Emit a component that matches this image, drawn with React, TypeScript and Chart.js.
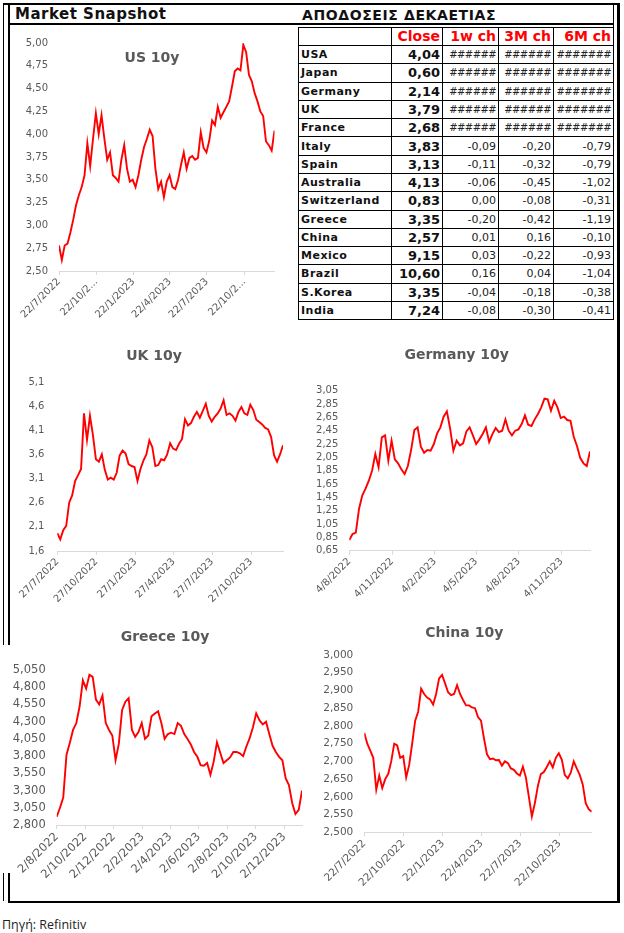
import React, { useEffect, useRef } from 'react';
import { Chart, registerables } from 'chart.js';

Chart.register(...registerables);

const STEP_DAYS = 7;

// ---------- US 10y ----------
const usStartDate = '2022-07-22';
const usValues = [2.78, 2.62, 2.78, 2.80, 2.92, 3.06, 3.22, 3.33, 3.42, 3.55, 3.90, 3.65, 3.95, 4.23, 4.00, 4.21, 3.95, 3.72, 3.80, 3.55, 3.52, 3.48, 3.72, 3.88, 3.62, 3.48, 3.50, 3.42, 3.55, 3.72, 3.86, 3.95, 4.05, 3.98, 3.62, 3.40, 3.48, 3.31, 3.48, 3.55, 3.42, 3.40, 3.50, 3.66, 3.80, 3.62, 3.74, 3.76, 3.72, 3.74, 4.02, 3.85, 3.80, 3.93, 4.15, 4.10, 4.30, 4.18, 4.24, 4.30, 4.36, 4.52, 4.69, 4.72, 4.70, 4.98, 4.90, 4.65, 4.58, 4.45, 4.36, 4.25, 4.20, 3.92, 3.88, 3.82, 4.04];
const usTickDates = ['2022-07-22', '2022-10-22', '2023-01-22', '2023-04-22', '2023-07-22', '2023-10-22'];
const usTickLabels = ['22/7/2022', '22/10/2...', '22/1/2023', '22/4/2023', '22/7/2023', '22/10/2...'];
const usYTicks = [2.5, 2.75, 3.0, 3.25, 3.5, 3.75, 4.0, 4.25, 4.5, 4.75, 5.0];

// ---------- UK 10y ----------
const ukStartDate = '2022-07-27';
const ukValues = [1.97, 1.84, 2.03, 2.12, 2.60, 2.75, 3.05, 3.17, 3.30, 4.45, 3.90, 4.40, 4.00, 3.50, 3.45, 3.60, 3.28, 3.08, 3.12, 3.08, 3.22, 3.58, 3.68, 3.62, 3.40, 3.36, 3.34, 3.05, 3.30, 3.47, 3.60, 3.89, 3.75, 3.36, 3.38, 3.50, 3.48, 3.60, 3.83, 3.72, 3.69, 3.82, 3.92, 4.33, 4.20, 4.25, 4.38, 4.48, 4.36, 4.50, 4.65, 4.40, 4.28, 4.38, 4.45, 4.55, 4.72, 4.42, 4.45, 4.40, 4.30, 4.48, 4.58, 4.45, 4.42, 4.63, 4.52, 4.32, 4.27, 4.22, 4.15, 4.12, 3.96, 3.58, 3.45, 3.60, 3.79];
const ukTickDates = ['2022-07-27', '2022-10-27', '2023-01-27', '2023-04-27', '2023-07-27', '2023-10-27'];
const ukTickLabels = ['27/7/2022', '27/10/2022', '27/1/2023', '27/4/2023', '27/7/2023', '27/10/2023'];
const ukYTicks = [1.6, 2.1, 2.6, 3.1, 3.6, 4.1, 4.6, 5.1];

// ---------- Germany 10y ----------
const deStartDate = '2022-08-04';
const deValues = [0.81, 0.90, 0.92, 1.28, 1.48, 1.58, 1.70, 1.85, 2.10, 1.90, 2.35, 2.38, 2.00, 2.30, 2.02, 1.96, 1.87, 1.80, 1.92, 2.16, 2.46, 2.50, 2.21, 2.12, 2.16, 2.15, 2.25, 2.41, 2.50, 2.66, 2.74, 2.48, 2.15, 2.30, 2.23, 2.26, 2.44, 2.50, 2.38, 2.25, 2.32, 2.40, 2.50, 2.28, 2.40, 2.49, 2.43, 2.45, 2.62, 2.45, 2.38, 2.45, 2.47, 2.55, 2.68, 2.54, 2.52, 2.62, 2.70, 2.80, 2.93, 2.92, 2.75, 2.90, 2.80, 2.64, 2.66, 2.61, 2.60, 2.36, 2.22, 2.04, 1.96, 1.92, 2.14];
const deTickDates = ['2022-08-04', '2022-11-04', '2023-02-04', '2023-05-04', '2023-08-04', '2023-11-04'];
const deTickLabels = ['4/8/2022', '4/11/2022', '4/2/2023', '4/5/2023', '4/8/2023', '4/11/2023'];
const deYTicks = [0.65, 0.85, 1.05, 1.25, 1.45, 1.65, 1.85, 2.05, 2.25, 2.45, 2.65, 2.85, 3.05];

// ---------- Greece 10y ----------
const grStartDate = '2022-08-02';
const grValues = [2.92, 3.05, 3.20, 3.82, 3.99, 4.18, 4.28, 4.52, 4.90, 4.78, 4.98, 4.95, 4.62, 4.55, 4.68, 4.28, 4.18, 4.10, 3.74, 3.98, 4.47, 4.59, 4.64, 4.18, 4.08, 4.15, 4.28, 4.05, 4.10, 4.38, 4.42, 4.45, 4.28, 4.05, 4.12, 4.14, 4.12, 4.28, 4.24, 4.12, 4.05, 3.97, 3.86, 3.79, 3.67, 3.66, 3.70, 3.53, 3.72, 4.00, 3.85, 3.70, 3.74, 3.78, 3.86, 3.86, 3.84, 3.80, 3.94, 4.06, 4.22, 4.42, 4.32, 4.26, 4.30, 4.12, 3.95, 3.86, 3.79, 3.74, 3.48, 3.38, 3.12, 2.96, 3.02, 3.30];
const grTickDates = ['2022-08-02', '2022-10-02', '2022-12-02', '2023-02-02', '2023-04-02', '2023-06-02', '2023-08-02', '2023-10-02', '2023-12-02'];
const grTickLabels = ['2/8/2022', '2/10/2022', '2/12/2022', '2/2/2023', '2/4/2023', '2/6/2023', '2/8/2023', '2/10/2023', '2/12/2023'];
const grYTicks = [2.8, 3.05, 3.3, 3.55, 3.8, 4.05, 4.3, 4.55, 4.8, 5.05];

// ---------- China 10y ----------
const cnStartDate = '2022-07-22';
const cnValues = [2.78, 2.75, 2.73, 2.71, 2.62, 2.66, 2.625, 2.65, 2.665, 2.70, 2.75, 2.745, 2.71, 2.715, 2.655, 2.69, 2.75, 2.815, 2.84, 2.905, 2.89, 2.88, 2.875, 2.86, 2.89, 2.934, 2.944, 2.92, 2.895, 2.887, 2.89, 2.915, 2.89, 2.873, 2.858, 2.858, 2.852, 2.85, 2.825, 2.815, 2.765, 2.72, 2.706, 2.708, 2.703, 2.704, 2.688, 2.70, 2.695, 2.68, 2.676, 2.666, 2.66, 2.685, 2.655, 2.60, 2.545, 2.582, 2.63, 2.664, 2.67, 2.684, 2.70, 2.683, 2.71, 2.723, 2.705, 2.662, 2.652, 2.668, 2.70, 2.68, 2.662, 2.635, 2.582, 2.565, 2.558];
const cnTickDates = ['2022-07-22', '2022-10-22', '2023-01-22', '2023-04-22', '2023-07-22', '2023-10-22'];
const cnTickLabels = ['22/7/2022', '22/10/2022', '22/1/2023', '22/4/2023', '22/7/2023', '22/10/2023'];
const cnYTicks = [2.5, 2.55, 2.6, 2.65, 2.7, 2.75, 2.8, 2.85, 2.9, 2.95, 3.0];

// ---------- Table ----------
const tableHeaders = ['', 'Close', '1w ch', '3M ch', '6M ch'];
const countries = ['USA', 'Japan', 'Germany', 'UK', 'France', 'Italy', 'Spain', 'Australia', 'Switzerland', 'Greece', 'China', 'Mexico', 'Brazil', 'S.Korea', 'India'];
const closeValues = [4.04, 0.60, 2.14, 3.79, 2.68, 3.83, 3.13, 4.13, 0.83, 3.35, 2.57, 9.15, 10.60, 3.35, 7.24];
const change1w: (number | null)[] = [null, null, null, null, null, -0.09, -0.11, -0.06, 0.00, -0.20, 0.01, 0.03, 0.16, -0.04, -0.08];
const change3m: (number | null)[] = [null, null, null, null, null, -0.20, -0.32, -0.45, -0.08, -0.42, 0.16, -0.22, 0.04, -0.18, -0.30];
const change6m: (number | null)[] = [null, null, null, null, null, -0.79, -0.79, -1.02, -0.31, -1.19, -0.10, -0.93, -1.04, -0.38, -0.41];

const FONT = '"DejaVu Sans", Verdana, sans-serif';
const AXIS_GRAY = '#595959';

function dayOffset(start: string, d: string) {
  return Math.round((Date.parse(d + 'T00:00:00Z') - Date.parse(start + 'T00:00:00Z')) / 86400000);
}

function fmt(v: number, d: number) {
  return v.toFixed(d).replace('.', ',');
}

type Box = { left: number; top: number; width: number; height: number };
type Spec = {
  title: string;
  startDate: string;
  values: number[];
  tickDates: string[];
  tickLabels: string[];
  yTicks: number[];
  yDecimals: number;
  box: Box;
  plot: { l: number; t: number; r: number; b: number };
  labelGap: number;
  titlePos: { x: number; y: number };
  tickFont?: number;
};

const fixedTitle = {
  id: 'fixedTitle',
  afterDraw(chart: any, _args: any, opts: any) {
    const ctx = chart.ctx;
    ctx.save();
    ctx.font = `bold 14px ${FONT}`;
    ctx.fillStyle = AXIS_GRAY;
    ctx.textAlign = 'center';
    ctx.textBaseline = 'middle';
    ctx.fillText(opts.text, opts.x, opts.y);
    ctx.restore();
  },
};

function LineChart({ spec }: { spec: Spec }) {
  const ref = useRef<HTMLCanvasElement>(null);
  const { box, plot } = spec;
  useEffect(() => {
    const yAxisWidth = plot.l - box.left;
    const xAxisHeight = box.top + box.height - plot.b;
    const xTickValues = spec.tickDates.map((d) => dayOffset(spec.startDate, d));
    const data = spec.values.map((v, i) => ({ x: i * STEP_DAYS, y: v }));
    const xMax = (spec.values.length - 1) * STEP_DAYS;
    const tickFont = { family: FONT, size: spec.tickFont || 10 };
    const chart = new Chart(ref.current as HTMLCanvasElement, {
      type: 'line',
      data: {
        datasets: [
          {
            data,
            borderColor: '#ff0000',
            borderWidth: 1.9,
            pointRadius: 0,
            tension: 0,
            fill: false,
          },
        ],
      },
      options: {
        animation: false,
        responsive: false,
        maintainAspectRatio: false,
        layout: {
          padding: { left: 0, top: plot.t - box.top, right: box.left + box.width - plot.r, bottom: 0 },
        },
        plugins: {
          legend: { display: false },
          tooltip: { enabled: false },
          // @ts-ignore
          fixedTitle: { text: spec.title, x: spec.titlePos.x - box.left, y: spec.titlePos.y - box.top },
        },
        scales: {
          x: {
            type: 'linear',
            min: 0,
            max: xMax,
            bounds: 'data',
            afterBuildTicks: (s: any) => {
              s.ticks = xTickValues.map((v) => ({ value: v }));
            },
            afterFit: (s: any) => {
              s.height = xAxisHeight;
              s.paddingLeft = 0;
              s.paddingRight = 0;
            },
            ticks: {
              autoSkip: false,
              maxRotation: 45,
              minRotation: 45,
              padding: 1,
              color: AXIS_GRAY,
              font: tickFont,
              callback: (_v: any, i: number) => spec.tickLabels[i],
            },
            grid: { display: true, drawOnChartArea: false, drawTicks: true, tickLength: 4, color: '#d9d9d9' },
            border: { display: true, color: '#d9d9d9', width: 1 },
          },
          y: {
            type: 'linear',
            min: spec.yTicks[0],
            max: spec.yTicks[spec.yTicks.length - 1],
            afterBuildTicks: (s: any) => {
              s.ticks = spec.yTicks.map((v) => ({ value: v }));
            },
            afterFit: (s: any) => {
              s.width = yAxisWidth;
              s.paddingTop = 0;
              s.paddingBottom = 0;
            },
            ticks: {
              autoSkip: false,
              padding: spec.labelGap,
              color: AXIS_GRAY,
              font: tickFont,
              callback: (v: any) => fmt(Number(v), spec.yDecimals),
            },
            grid: { display: false, drawTicks: false },
            border: { display: false },
          },
        },
      } as any,
      plugins: [fixedTitle as any],
    });
    return () => chart.destroy();
  }, [spec]);
  return (
    <canvas
      ref={ref}
      width={box.width}
      height={box.height}
      style={{
        position: 'absolute',
        left: box.left,
        top: box.top,
        width: box.width,
        height: box.height,
        display: 'block',
      }}
    />
  );
}

const usSpec: Spec = {
  title: 'US 10y', startDate: usStartDate, values: usValues, tickDates: usTickDates, tickLabels: usTickLabels,
  yTicks: usYTicks, yDecimals: 2,
  box: { left: 10, top: 26, width: 287, height: 300 },
  plot: { l: 59, t: 43, r: 274.5, b: 271 }, labelGap: 11, titlePos: { x: 152, y: 58 },
};
const ukSpec: Spec = {
  title: 'UK 10y', startDate: ukStartDate, values: ukValues, tickDates: ukTickDates, tickLabels: ukTickLabels,
  yTicks: ukYTicks, yDecimals: 1,
  box: { left: 11, top: 335, width: 291, height: 275 },
  plot: { l: 57.3, t: 382, r: 283, b: 551 }, labelGap: 13, titlePos: { x: 154, y: 356 },
};
const deSpec: Spec = {
  title: 'Germany 10y', startDate: deStartDate, values: deValues, tickDates: deTickDates, tickLabels: deTickLabels,
  yTicks: deYTicks, yDecimals: 2,
  box: { left: 305, top: 335, width: 310, height: 275 },
  plot: { l: 349.3, t: 390.7, r: 590, b: 550.7 }, labelGap: 11, titlePos: { x: 456.7, y: 355 },
};
const grSpec: Spec = {
  title: 'Greece 10y', startDate: grStartDate, values: grValues, tickDates: grTickDates, tickLabels: grTickLabels,
  yTicks: grYTicks, yDecimals: 3,
  box: { left: 2, top: 615, width: 303, height: 280 },
  plot: { l: 56.7, t: 670, r: 302, b: 825 }, labelGap: 11, titlePos: { x: 165, y: 637 }, tickFont: 11.5,
};
const cnSpec: Spec = {
  title: 'China 10y', startDate: cnStartDate, values: cnValues, tickDates: cnTickDates, tickLabels: cnTickLabels,
  yTicks: cnYTicks, yDecimals: 3,
  box: { left: 305, top: 615, width: 308, height: 280 },
  plot: { l: 364.3, t: 655, r: 591.7, b: 832.3 }, labelGap: 11, titlePos: { x: 464.3, y: 633 }, tickFont: 10.5,
};

function Rect({ x, y, w, h, c = '#000' }: { x: number; y: number; w: number; h: number; c?: string }) {
  return <div style={{ position: 'absolute', left: x, top: y, width: w, height: h, background: c }} />;
}

const COL_X = [298, 391, 442, 498, 553, 613];
const TABLE_TOP = 26.7;
const ROW_H = 18.28;

function Table() {
  const items: React.ReactNode[] = [];
  const nRows = countries.length + 1;
  for (let i = 0; i <= nRows; i++) {
    items.push(<Rect key={'h' + i} x={COL_X[0]} y={Math.round(TABLE_TOP + i * ROW_H)} w={COL_X[5] - COL_X[0] + 1} h={1} />);
  }
  for (let j = 0; j < COL_X.length; j++) {
    items.push(<Rect key={'v' + j} x={COL_X[j]} y={Math.round(TABLE_TOP)} w={1} h={Math.round(nRows * ROW_H) + 1} />);
  }
  const cell = (key: string, r: number, c: number, text: string, style: React.CSSProperties, align: 'left' | 'right') => (
    <div
      key={key}
      style={{
        position: 'absolute',
        left: COL_X[c] + 1,
        width: COL_X[c + 1] - COL_X[c] - 1,
        top: TABLE_TOP + r * ROW_H + 1,
        height: ROW_H - 1,
        display: 'flex',
        alignItems: 'center',
        justifyContent: align === 'left' ? 'flex-start' : 'flex-end',
        paddingLeft: align === 'left' ? 2 : 0,
        paddingRight: align === 'right' ? 2 : 0,
        boxSizing: 'border-box',
        whiteSpace: 'nowrap',
        overflow: 'hidden',
        ...style,
      }}
    >
      {text}
    </div>
  );
  tableHeaders.forEach((h, c) => {
    if (h) items.push(cell('th' + c, 0, c, h, { color: '#ff0000', fontWeight: 'bold', fontSize: 14 }, 'right'));
  });
  const changes = [change1w, change3m, change6m];
  countries.forEach((name, i) => {
    const r = i + 1;
    items.push(cell('n' + i, r, 0, name, { fontWeight: 'bold', fontSize: 11, letterSpacing: 0.5, color: '#111' }, 'left'));
    items.push(cell('c' + i, r, 1, fmt(closeValues[i], 2), { fontWeight: 'bold', fontSize: 13, color: '#111' }, 'right'));
    changes.forEach((arr, k) => {
      const v = arr[i];
      if (v === null) {
        items.push(cell('x' + k + '-' + i, r, k + 2, k === 2 ? '#######' : '######', { fontSize: 10, letterSpacing: -0.6, color: '#222' }, 'right'));
      } else {
        items.push(cell('x' + k + '-' + i, r, k + 2, fmt(v, 2), { fontSize: 11, color: '#222' }, 'right'));
      }
    });
  });
  return <>{items}</>;
}

export default function App() {
  return (
    <div
      style={{
        position: 'absolute',
        left: 0,
        top: 0,
        width: 624,
        height: 933,
        background: '#fff',
        fontFamily: FONT,
        overflow: 'hidden',
      }}
    >
      {/* frame */}
      <Rect x={3} y={3} w={1} h={898} />
      <Rect x={8} y={3} w={2} h={900} />
      <Rect x={3} y={3} w={617} h={2} />
      <Rect x={8} y={23} w={606} h={2} />
      <Rect x={613} y={3} w={1} h={24} />
      <Rect x={617} y={3} w={3} h={900} />
      <Rect x={8} y={901} w={612} h={2} />
      {/* Greece chart area hides part of the left frame */}
      <Rect x={2} y={645} w={9} h={228} c="#fff" />

      <div style={{ position: 'absolute', left: 15, top: 7, fontSize: 15, lineHeight: '15px', fontWeight: 'bold', letterSpacing: 0.5, color: '#111', whiteSpace: 'nowrap' }}>
        Market Snapshot
      </div>
      <div style={{ position: 'absolute', left: 302, top: 8, fontSize: 14, lineHeight: '14px', fontWeight: 'bold', letterSpacing: 0.6, color: '#111', whiteSpace: 'nowrap' }}>
        ΑΠΟΔΟΣΕΙΣ ΔΕΚΑΕΤΙΑΣ
      </div>

      <Table />

      <LineChart spec={usSpec} />
      <LineChart spec={ukSpec} />
      <LineChart spec={deSpec} />
      <LineChart spec={grSpec} />
      <LineChart spec={cnSpec} />

      <div style={{ position: 'absolute', left: 2, top: 919, fontSize: 12.5, lineHeight: '12.5px', fontFamily: '"Open Sans", sans-serif', color: '#222', whiteSpace: 'nowrap' }}>
        Πηγή: Refinitiv
      </div>
    </div>
  );
}
